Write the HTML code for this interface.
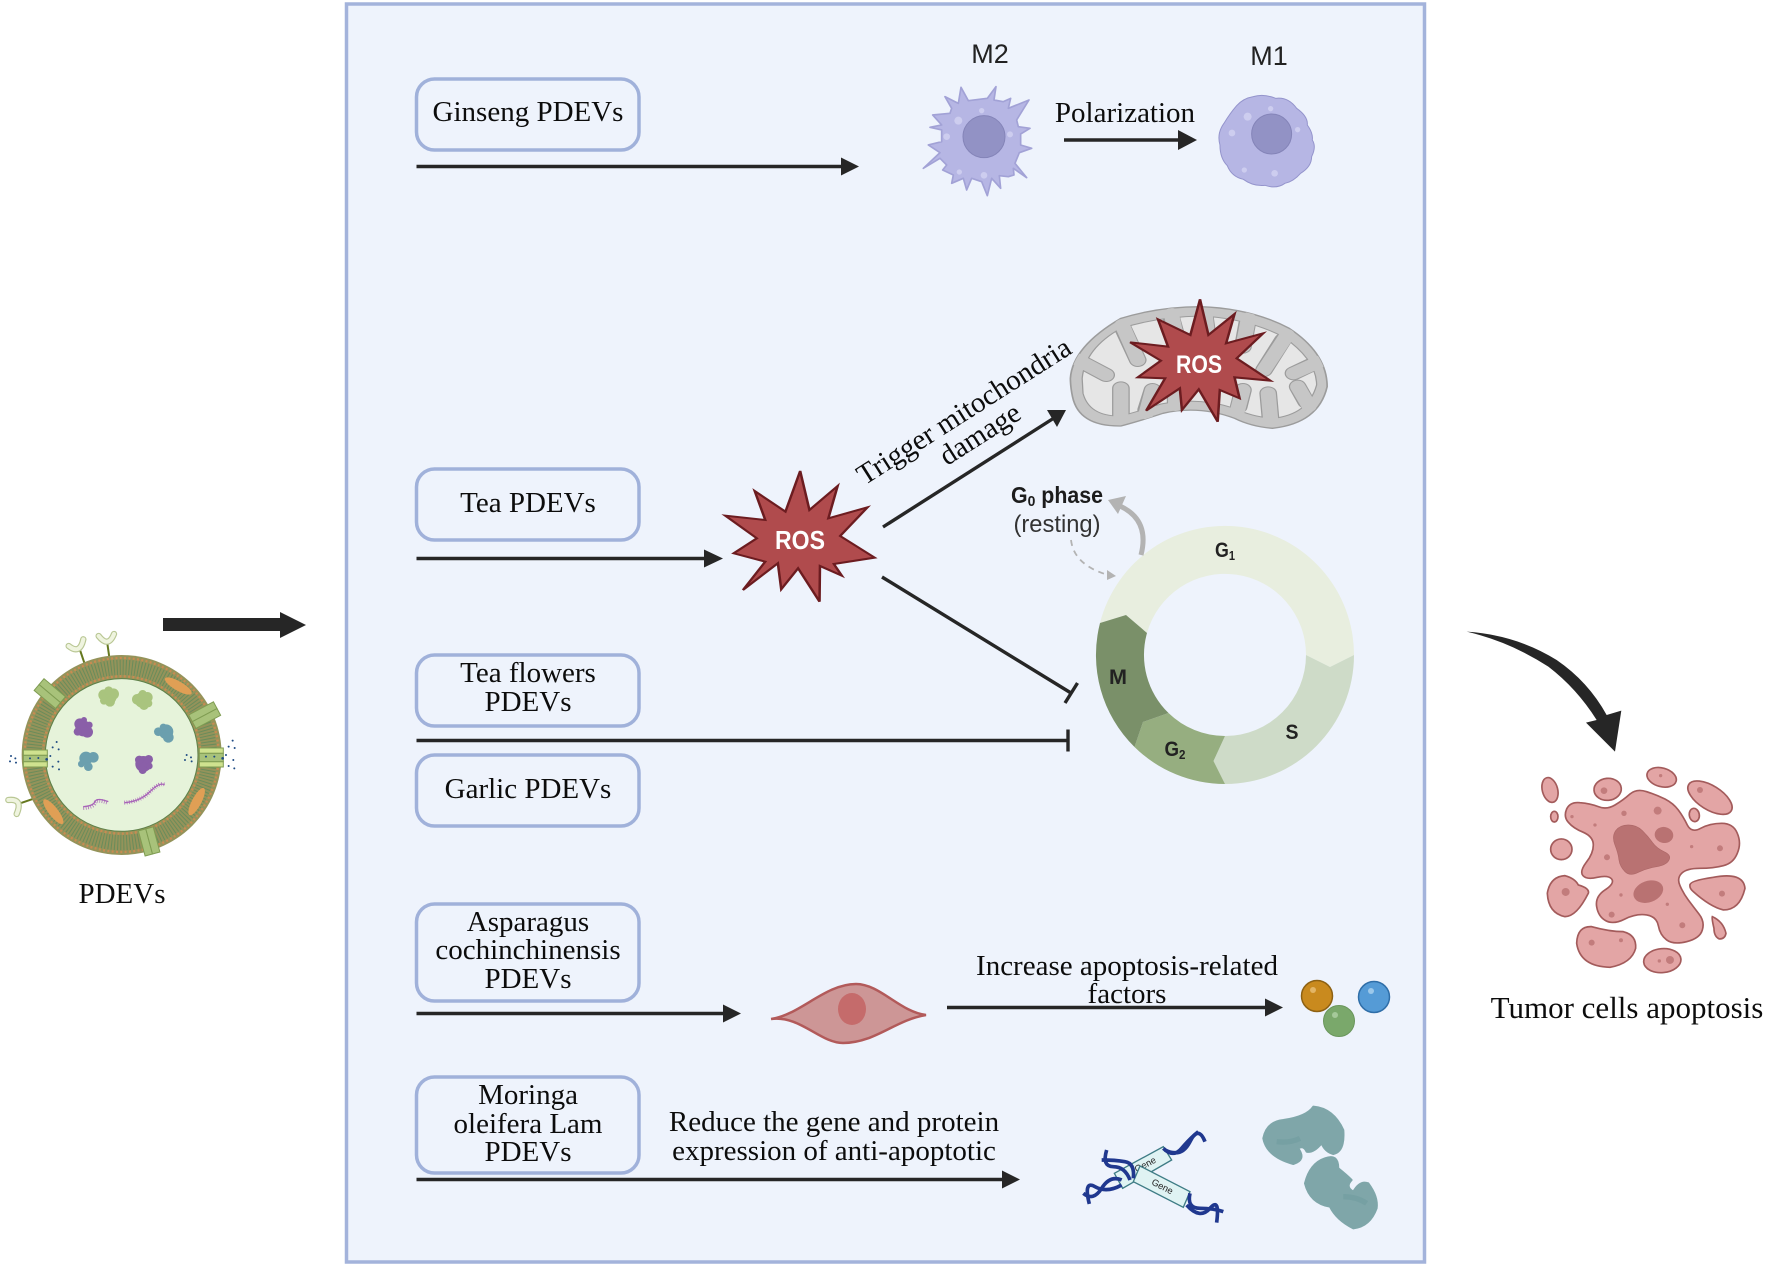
<!DOCTYPE html>
<html>
<head>
<meta charset="utf-8">
<style>
html,body{margin:0;padding:0;background:#fff;width:1772px;height:1266px;overflow:hidden}
svg{display:block}
.t{font-family:"Liberation Serif",serif;font-size:29px;fill:#0c0c0c;text-anchor:middle}
.s{font-family:"Liberation Sans",sans-serif;fill:#222;text-anchor:middle}
.box{fill:none;stroke:#a0b1da;stroke-width:3.5}
.ln{stroke:#262626;stroke-width:3.4;fill:none}
.hd{fill:#262626}
.tm{fill:#e3a5a5;stroke:#a35b5b;stroke-width:5}
.nu{fill:#c27c7c}
</style>
</head>
<body>
<svg xmlns="http://www.w3.org/2000/svg" width="1772" height="1266" viewBox="0 0 1772 1266">
<defs>
<clipPath id="mo"><path d="M880,265 Q885,170 1000,85 Q1090,50 1190,50 Q1310,55 1400,115 Q1490,190 1490,290 Q1470,400 1360,415 Q1310,410 1270,385 Q1185,345 1100,370 Q1040,395 1000,408 Q900,410 885,320 Q880,290 880,265Z"/></clipPath>
<clipPath id="mi"><path d="M908,265 Q915,175 1000,115 Q1090,80 1190,78 Q1300,85 1385,140 Q1465,210 1465,285 Q1445,375 1360,385 Q1310,380 1270,355 Q1185,320 1095,342 Q1040,365 1000,378 Q925,380 910,310 Z"/></clipPath>
</defs>
<rect width="1772" height="1266" fill="#fff"/>
<rect x="346.500" y="4" width="1078" height="1258" fill="#eef3fc" stroke="#a3b3db" stroke-width="3.500"/>

<!-- boxes -->
<rect class="box" x="416.500" y="79" width="222.500" height="71" rx="18"/>
<rect class="box" x="416.500" y="469" width="222.500" height="71" rx="18"/>
<rect class="box" x="416.500" y="655" width="222.500" height="71" rx="18"/>
<rect class="box" x="416.500" y="755" width="222.500" height="71" rx="18"/>
<rect class="box" x="416.500" y="904" width="222.500" height="97" rx="18"/>
<rect class="box" x="416.500" y="1077" width="222.500" height="96" rx="18"/>

<text class="t" x="528" y="121">Ginseng PDEVs</text>
<text class="t" x="528" y="512">Tea PDEVs</text>
<text class="t" x="528" y="682">Tea flowers</text>
<text class="t" x="528" y="711">PDEVs</text>
<text class="t" x="528" y="798">Garlic PDEVs</text>
<text class="t" x="528" y="931">Asparagus</text>
<text class="t" x="528" y="959">cochinchinensis</text>
<text class="t" x="528" y="988">PDEVs</text>
<text class="t" x="528" y="1104">Moringa</text>
<text class="t" x="528" y="1133">oleifera Lam</text>
<text class="t" x="528" y="1161">PDEVs</text>

<!-- arrows -->
<path class="ln" d="M416.500,166.500H845"/><path class="hd" d="M841,157.500L859,166.500L841,175.500Z"/>
<path class="ln" d="M416.500,558.500H710"/><path class="hd" d="M704,549.500L723,558.500L704,567.500Z"/>
<path class="ln" d="M416.500,740.500H1068M1068,729.500V751.500"/>
<path class="ln" d="M416.500,1013.500H730"/><path class="hd" d="M723,1004.500L741,1013.500L723,1022.500Z"/>
<path class="ln" d="M947,1007.500H1270"/><path class="hd" d="M1265,998.500L1283,1007.500L1265,1016.500Z"/>
<path class="ln" d="M416.500,1179.500H1005"/><path class="hd" d="M1002,1170.500L1020,1179.500L1002,1188.500Z"/>
<path class="ln" d="M1064,140H1185"/><path class="hd" d="M1178,130L1197,140L1178,150Z"/>
<path class="ln" d="M883,527L1054,418"/><path class="hd" d="M1047,410L1066,410L1057,427Z"/>
<path class="ln" d="M882,577L1071,693M1077.500,683L1065,703"/>
<path class="hd" d="M163,618H280V612L306,625L280,638V631H163Z"/>

<!-- labels -->
<text class="t" x="1125" y="122">Polarization</text>
<text class="s" x="990" y="63" font-size="27">M2</text>
<text class="s" x="1269" y="65" font-size="27">M1</text>
<text class="t" x="1127" y="975">Increase apoptosis-related</text>
<text class="t" x="1127" y="1003">factors</text>
<text class="t" x="834" y="1131">Reduce the gene and protein</text>
<text class="t" x="834" y="1160">expression of anti-apoptotic</text>
<text class="t" x="122" y="903">PDEVs</text>
<text class="t" x="1627" y="1018" style="font-size:31px">Tumor cells apoptosis</text>
<text class="t" transform="translate(969,419) rotate(-32.500)" y="0" style="font-size:29px">Trigger mitochondria</text>
<text class="t" transform="translate(985,442) rotate(-32.500)" y="0" style="font-size:29px">damage</text>

<!-- M2 / M1 -->
<g transform="matrix(.3333,0,0,.3333,900,30)">
<polygon fill="#b6b6e4" stroke="#a2a2d6" stroke-width="5" stroke-linejoin="round" points="183,172 205,212 262,205 288,170 282,210 310,215 332,205 325,235 387,210 350,270 355,290 390,295 362,312 362,345 395,355 358,368 345,400 380,443 340,415 342,435 325,440 298,437 302,475 275,445 262,497 245,455 215,445 200,480 190,445 155,460 160,435 128,420 140,405 120,385 70,415 120,368 85,345 125,335 125,300 90,292 125,285 98,255 150,250 155,235 135,200 175,220"/>
<circle cx="252" cy="320" r="63" fill="#9292c5" stroke="#8484b8" stroke-width="3"/>
<circle cx="175" cy="272" r="12" fill="#cdcdef"/><circle cx="245" cy="242" r="8" fill="#cdcdef"/><circle cx="140" cy="320" r="10" fill="#cdcdef"/><circle cx="330" cy="313" r="9" fill="#cdcdef"/><circle cx="252" cy="436" r="10" fill="#cdcdef"/><circle cx="178" cy="426" r="8" fill="#cdcdef"/>
<path fill="#b6b6e4" stroke="#9494cc" stroke-width="3" d="M972,280 Q990,250 1010,227 Q1030,205 1060,200 Q1090,190 1127,205 Q1165,200 1190,235 Q1225,260 1222,285 Q1240,310 1237,330 Q1250,350 1235,380 Q1235,410 1202,430 Q1180,455 1155,460 Q1130,478 1095,466 Q1060,470 1030,448 Q995,440 982,407 Q960,385 960,345 Q950,310 972,280Z"/>
<circle cx="1115" cy="312" r="60" fill="#9292c5" stroke="#8484b8" stroke-width="3"/>
<circle cx="1043" cy="260" r="12" fill="#cdcdef"/><circle cx="1112" cy="236" r="8" fill="#cdcdef"/><circle cx="996" cy="309" r="10" fill="#cdcdef"/><circle cx="1193" cy="299" r="8" fill="#cdcdef"/><circle cx="1124" cy="430" r="10" fill="#cdcdef"/><circle cx="1033" cy="420" r="8" fill="#cdcdef"/>
</g>

<!-- Mitochondria + stars (zoom-space) -->
<g transform="matrix(.4209,0,0,.3333,700,290)">
<path fill="#c6c6c6" stroke="#9c9c9c" stroke-width="4" d="M880,265 Q885,170 1000,85 Q1090,50 1190,50 Q1310,55 1400,115 Q1490,190 1490,290 Q1470,400 1360,415 Q1310,410 1270,385 Q1185,345 1100,370 Q1040,395 1000,408 Q900,410 885,320 Q880,290 880,265Z"/>
<path fill="#e6e6e6" stroke="#9c9c9c" stroke-width="3" d="M908,265 Q915,175 1000,115 Q1090,80 1190,78 Q1300,85 1385,140 Q1465,210 1465,285 Q1445,375 1360,385 Q1310,380 1270,355 Q1185,320 1095,342 Q1040,365 1000,378 Q925,380 910,310 Z"/>
<g clip-path="url(#mi)"><g fill="none" stroke="#9c9c9c" stroke-width="42" stroke-linecap="round">
<path d="M905,215 L965,255"/><path d="M1000,375 L1000,295"/><path d="M1060,360 L1075,300"/>
<path d="M1005,115 L1040,210"/><path d="M1120,85 L1130,130"/><path d="M1200,85 L1205,130"/>
<path d="M1300,100 L1290,170"/><path d="M1385,150 L1340,240"/><path d="M1460,220 L1410,250"/>
<path d="M1440,335 L1420,290"/><path d="M1355,380 L1350,310"/><path d="M1280,350 L1290,300"/>
<path d="M1130,335 L1130,230"/>
</g></g>
<g clip-path="url(#mo)"><g fill="none" stroke="#c6c6c6" stroke-width="36" stroke-linecap="round">
<path d="M895,208 L965,255"/><path d="M1000,385 L1000,295"/><path d="M1060,370 L1075,300"/>
<path d="M1003,105 L1040,210"/><path d="M1120,72 L1130,130"/><path d="M1200,72 L1205,130"/>
<path d="M1303,85 L1290,170"/><path d="M1395,135 L1340,240"/><path d="M1472,215 L1410,250"/>
<path d="M1447,348 L1420,290"/><path d="M1356,392 L1350,310"/><path d="M1277,362 L1290,300"/>
<path d="M1130,345 L1130,230"/>
</g></g>
<polygon fill="#b04b4d" stroke="#6c1c20" stroke-width="6" stroke-linejoin="miter" points="1188,28 1208,135 1270,72 1250,160 1338,130 1275,205 1355,272 1270,262 1282,325 1235,300 1230,395 1185,298 1145,360 1140,295 1060,362 1105,265 1040,262 1095,212 1022,157 1112,170 1088,88 1165,135"/>
<polygon fill="#b04b4d" stroke="#6c1c20" stroke-width="6" points="238,543 260,660 327,588 305,685 398,652 333,738 415,803 318,822 337,857 285,828 284,935 233,835 193,898 185,820 102,900 155,815 80,790 135,745 60,677 155,690 130,603 203,665"/>
</g>
<text class="s" x="1199" y="373" font-size="25" font-weight="bold" textLength="46" lengthAdjust="spacingAndGlyphs" style="fill:#fff">ROS</text>
<text class="s" x="800" y="549" font-size="26" font-weight="bold" textLength="50" lengthAdjust="spacingAndGlyphs" style="fill:#fff">ROS</text>

<!-- Cell cycle -->
<path fill="#e8eedf" d="M1100,623L1126,615L1147,633A81,81 0 0 1 1306,655L1330,667L1354,655A129,129 0 0 0 1100,623Z"/>
<path fill="#cedbc8" d="M1354,655A129,129 0 0 1 1225,784L1213.500,761L1225,736A81,81 0 0 0 1306,655L1330,667Z"/>
<path fill="#96ae80" d="M1225,784A129,129 0 0 1 1134.500,747L1143,722L1168.500,713A81,81 0 0 0 1225,736L1213.500,761Z"/>
<path fill="#7a9069" d="M1100,623L1126,615L1147,633A81,81 0 0 0 1168.500,713L1143,722L1134.500,747A129,129 0 0 1 1100,623Z"/>
<text class="s" x="1225" y="557" font-size="21" font-weight="bold" textLength="20" lengthAdjust="spacingAndGlyphs">G<tspan font-size="13" dy="3">1</tspan></text>
<text class="s" x="1118" y="684" font-size="21" font-weight="bold" textLength="18" lengthAdjust="spacingAndGlyphs">M</text>
<text class="s" x="1175" y="756" font-size="21" font-weight="bold" textLength="21" lengthAdjust="spacingAndGlyphs">G<tspan font-size="13" dy="3">2</tspan></text>
<text class="s" x="1292" y="739" font-size="21" font-weight="bold" textLength="13" lengthAdjust="spacingAndGlyphs">S</text>
<text class="s" x="1057" y="503" font-size="23" font-weight="bold" textLength="92" lengthAdjust="spacingAndGlyphs" style="fill:#1c1c1c">G<tspan font-size="15" dy="3">0</tspan><tspan dy="-3"> phase</tspan></text>
<text class="s" x="1057" y="532" font-size="24" textLength="87" lengthAdjust="spacingAndGlyphs" style="fill:#333">(resting)</text>
<path d="M1141,555Q1150,520 1120,506" fill="none" stroke="#b3b3b3" stroke-width="5"/>
<path d="M1108,500L1126,496L1118,514Z" fill="#b3b3b3"/>
<path d="M1071,540Q1074,565 1108,575" fill="none" stroke="#b3b3b3" stroke-width="1.800" stroke-dasharray="6 5"/>
<path d="M1107,570L1116,576L1107,580Z" fill="#b3b3b3"/>

<!-- fibroblast-like cell and factors -->
<path fill="#cd9696" stroke="#b25a5a" stroke-width="2.500" d="M771,1019C800,1015 825,984 856,984C880,984 900,1012 926,1015C895,1020 875,1043 843,1043C820,1043 800,1015 771,1019Z"/>
<ellipse cx="852" cy="1009" rx="14" ry="16" fill="#c56b6b"/>
<circle cx="1339" cy="1021" r="15.500" fill="#7aa86b" stroke="#6a965c"/>
<circle cx="1317" cy="996" r="15.500" fill="#c98a1e" stroke="#8d6113" stroke-width="1.500"/>
<circle cx="1374" cy="997" r="15.500" fill="#559bd6" stroke="#2f6ea8" stroke-width="1.500"/>
<circle cx="1313" cy="990" r="3" fill="#e2b566"/><circle cx="1371" cy="991" r="3" fill="#9cc8ea"/><circle cx="1335" cy="1015" r="3" fill="#a5c99a"/>

<!-- Gene + antibodies -->
<g transform="matrix(.3333,0,0,.3333,1050,1080)">
<polygon points="193,280 340,200 365,240 218,325" fill="#dff3f3" stroke="#3e7c85" stroke-width="4"/>
<text class="s" transform="translate(290,262) rotate(-28)" font-size="28">Gene</text>
<polygon points="270,258 420,335 400,382 250,305" fill="#dff3f3" stroke="#3e7c85" stroke-width="4"/>
<text class="s" transform="translate(333,328) rotate(27)" font-size="28">Gene</text>
<g fill="none" stroke="#20388f" stroke-width="11">
<path d="M340,205Q370,235 395,205T445,155"/><path d="M345,210Q395,235 420,185T465,185"/>
<path d="M215,300Q180,285 155,325T100,340"/><path d="M215,315Q170,340 135,320T118,372"/>
<path d="M250,295Q255,250 225,245T155,240"/><path d="M240,300Q225,260 190,260T170,210"/>
<path d="M420,340Q410,385 450,385T520,395"/><path d="M410,375Q450,420 480,385T500,428"/>
</g>
<g fill="#7fa6a9" stroke="#7fa6a9" stroke-width="6" stroke-linejoin="round">
<path d="M640,175Q650,125 700,120Q770,110 790,80Q850,85 880,150Q885,215 850,222Q825,215 815,190Q790,220 770,215Q760,195 745,205Q770,240 730,252Q650,230 640,175Z"/>
<path d="M765,310Q780,250 825,235Q865,220 865,265Q890,285 905,300Q885,320 910,335Q930,300 955,310Q985,350 980,385Q960,440 910,445Q860,420 840,380Q780,370 765,310Z"/>
</g>
<path d="M680,185Q720,190 750,175M880,350Q920,350 950,370" stroke="#76a0a3" stroke-width="16" fill="none"/>
</g>

<!-- Curved arrow + tumor -->
<g transform="matrix(.3333,0,0,.3333,1460,620)">
<path fill="#262626" d="M20,35Q170,45 290,120Q385,185 440,285L484,272L465,395L378,308L410,300Q350,205 265,140Q150,65 20,35Z"/>
<path class="tm" d="M320,567Q330,545 360,548Q390,550 415,560Q440,570 465,555Q490,540 510,522Q530,505 560,515Q590,525 615,537Q640,550 655,570Q670,590 682,615Q695,640 722,625Q750,610 785,610Q820,610 832,640Q845,670 832,700Q820,730 790,737Q760,745 720,745Q680,745 665,760Q650,775 660,797Q670,820 685,840Q700,860 717,882Q735,905 727,930Q720,955 680,965Q640,975 620,960Q600,945 595,917Q590,890 560,885Q530,880 495,897Q460,915 437,902Q415,890 410,860Q405,830 435,810Q465,790 455,777Q445,765 412,772Q380,780 369,767Q358,755 379,727Q400,700 400,675Q400,650 370,637Q340,625 325,607Q310,590 320,567Z"/>
<path fill="#b97272" stroke="#ad6868" stroke-width="2" d="M467,632Q480,615 505,615Q530,615 547,632Q565,650 577,667Q590,685 612,695Q635,705 627,720Q620,735 590,740Q560,745 535,757Q510,770 495,755Q480,740 477,720Q475,700 465,675Q455,650 467,632Z"/>
<ellipse cx="612" cy="645" rx="28" ry="24" fill="#b97272" transform="rotate(10 612 645)"/>
<ellipse cx="565" cy="815" rx="46" ry="32" fill="#b97272" transform="rotate(-20 565 815)"/>
<ellipse class="tm" cx="270" cy="510" rx="23" ry="38" transform="rotate(-15 270 510)"/>
<ellipse class="tm" cx="283" cy="590" rx="11" ry="16"/>
<ellipse class="tm" cx="443" cy="508" rx="41" ry="33" transform="rotate(-5 443 508)"/>
<ellipse class="tm" cx="605" cy="472" rx="45" ry="28" transform="rotate(15 605 472)"/>
<ellipse class="tm" cx="750" cy="533" rx="75" ry="36" transform="rotate(32 750 533)"/>
<ellipse class="tm" cx="703" cy="585" rx="15" ry="20" transform="rotate(-10 703 585)"/>
<ellipse class="tm" cx="304" cy="688" rx="32" ry="31"/>
<path class="tm" d="M262,820Q270,770 315,767Q345,775 355,795Q390,805 385,820Q350,890 315,890Q265,880 262,820Z"/>
<path class="tm" d="M690,795Q690,782 760,772Q850,755 855,805Q840,870 790,870Q750,860 700,815Q688,805 690,795Z"/>
<path class="tm" d="M757,890Q790,905 798,940Q795,957 778,957Q762,950 762,925Q755,895 757,890Z"/>
<path class="tm" d="M350,970Q352,918 395,920Q450,935 490,935Q530,945 527,985Q515,1030 450,1042Q360,1040 350,970Z"/>
<ellipse class="tm" cx="607" cy="1022" rx="56" ry="36" transform="rotate(-5 607 1022)"/>
<g class="nu">
<circle cx="432" cy="512" r="10"/><circle cx="602" cy="467" r="5"/><circle cx="720" cy="510" r="9"/><circle cx="336" cy="590" r="5"/><circle cx="405" cy="615" r="5"/><circle cx="492" cy="580" r="8"/><circle cx="593" cy="572" r="12"/><circle cx="780" cy="685" r="9"/><circle cx="695" cy="680" r="5"/><circle cx="441" cy="712" r="9"/><circle cx="317" cy="816" r="12"/><circle cx="786" cy="821" r="9"/><circle cx="483" cy="825" r="5"/><circle cx="622" cy="853" r="5"/><circle cx="455" cy="884" r="9"/><circle cx="667" cy="916" r="9"/><circle cx="395" cy="968" r="9"/><circle cx="483" cy="961" r="6"/><circle cx="630" cy="1020" r="12"/><circle cx="598" cy="1023" r="5"/>
</g>
</g>

<!-- Vesicle -->
<g transform="matrix(.3333,0,0,.3333,0,620)">
<g fill="none" stroke="#65781f" stroke-width="6">
<path d="M240,90L262,155"/><path d="M322,70L332,140"/><path d="M55,552L125,528"/>
</g>
<g fill="none" stroke-linecap="round"><g stroke="#b9c794" stroke-width="19"><path d="M206,78Q240,105 250,58"/><path d="M296,48Q325,85 342,42"/><path d="M25,540Q70,535 50,582"/></g><g stroke="#eff4df" stroke-width="12"><path d="M206,78Q240,105 250,58"/><path d="M296,48Q325,85 342,42"/><path d="M25,540Q70,535 50,582"/></g></g>
<circle cx="365" cy="405" r="300" fill="#94935a"/>
<circle cx="365" cy="405" r="263" fill="none" stroke="#6a8c5a" stroke-width="46" stroke-dasharray="3 6"/>
<circle cx="365" cy="405" r="291" fill="none" stroke="#c98b52" stroke-width="7" stroke-dasharray="6 7"/>
<circle cx="365" cy="405" r="236" fill="none" stroke="#c98b52" stroke-width="7" stroke-dasharray="6 7"/>
<circle cx="365" cy="405" r="229" fill="#e6f3da" stroke="#5d8048" stroke-width="3"/>
<g fill="#e09f55">
<ellipse cx="535" cy="198" rx="46" ry="14" transform="rotate(30 535 198)"/>
<ellipse cx="590" cy="545" rx="46" ry="14" transform="rotate(-62 590 545)"/>
<ellipse cx="160" cy="575" rx="46" ry="14" transform="rotate(52 160 575)"/>
</g>
<g fill="#a8c27a" stroke="#7f9c52" stroke-width="3">
<rect x="108" y="198" width="84" height="23" transform="rotate(40 150 220)"/><rect x="108" y="221" width="84" height="23" transform="rotate(40 150 220)"/>
<rect x="572" y="262" width="84" height="23" transform="rotate(-28 615 285)"/><rect x="572" y="285" width="84" height="23" transform="rotate(-28 615 285)"/>
<rect x="426" y="625" width="23" height="78" transform="rotate(-15 450 670)"/><rect x="449" y="625" width="23" height="78" transform="rotate(-15 450 670)"/>
<rect x="70" y="390" width="72" height="16" fill="#cfe28f"/><rect x="70" y="425" width="72" height="16" fill="#cfe28f"/><rect x="70" y="406" width="72" height="19"/>
<rect x="598" y="384" width="72" height="16" fill="#cfe28f"/><rect x="598" y="425" width="72" height="16" fill="#cfe28f"/><rect x="598" y="400" width="72" height="25"/>
</g>
<g fill="#1f4b83">
<circle cx="33" cy="408" r="3"/><circle cx="46" cy="415" r="3"/><circle cx="30" cy="424" r="3"/><circle cx="48" cy="428" r="3"/><circle cx="90" cy="415" r="3"/><circle cx="115" cy="414" r="3"/><circle cx="140" cy="418" r="4"/><circle cx="158" cy="382" r="3"/><circle cx="176" cy="388" r="3"/><circle cx="170" cy="366" r="3"/><circle cx="151" cy="408" r="3"/><circle cx="175" cy="425" r="3"/><circle cx="158" cy="440" r="3"/><circle cx="177" cy="448" r="3"/>
<circle cx="560" cy="405" r="3"/><circle cx="573" cy="412" r="3"/><circle cx="555" cy="420" r="3"/><circle cx="575" cy="424" r="3"/><circle cx="618" cy="410" r="3"/><circle cx="643" cy="410" r="3"/><circle cx="668" cy="415" r="4"/><circle cx="686" cy="380" r="3"/><circle cx="704" cy="384" r="3"/><circle cx="698" cy="362" r="3"/><circle cx="678" cy="405" r="3"/><circle cx="700" cy="420" r="3"/><circle cx="686" cy="438" r="3"/><circle cx="703" cy="445" r="3"/>
</g>
<g fill="#a9c47e">
<circle cx="326" cy="230" r="24"/><circle cx="312" cy="225" r="17"/><circle cx="340" cy="222" r="17"/><circle cx="330" cy="245" r="15"/><circle cx="312" cy="242" r="12"/><circle cx="326" cy="212" r="13"/>
<circle cx="428" cy="240" r="24"/><circle cx="412" cy="238" r="16"/><circle cx="442" cy="232" r="16"/><circle cx="432" cy="256" r="14"/><circle cx="445" cy="250" r="12"/><circle cx="428" cy="222" r="12"/>
</g>
<g fill="#8a5fa8">
<circle cx="250" cy="325" r="24"/><circle cx="240" cy="312" r="17"/><circle cx="262" cy="336" r="17"/><circle cx="233" cy="335" r="12"/><circle cx="268" cy="315" r="10"/><circle cx="252" cy="300" r="9"/>
<circle cx="430" cy="432" r="24"/><circle cx="418" cy="420" r="13"/><circle cx="446" cy="418" r="13"/><circle cx="428" cy="450" r="12"/><circle cx="448" cy="438" r="10"/>
</g>
<g fill="#6b9fae">
<circle cx="498" cy="335" r="22"/><circle cx="505" cy="352" r="16"/><circle cx="475" cy="335" r="13"/><circle cx="490" cy="322" r="11"/>
<circle cx="258" cy="415" r="20"/><circle cx="280" cy="412" r="16"/><circle cx="244" cy="432" r="10"/><circle cx="265" cy="440" r="13"/>
</g>
<g fill="none" stroke="#a864b8">
<path stroke-width="4" d="M250,560Q280,558 285,545T325,545"/><path stroke-width="4" d="M373,548Q420,545 450,515T494,495"/>
<path stroke-width="12" stroke-dasharray="2 5" d="M250,564Q280,562 285,549T325,549"/><path stroke-width="12" stroke-dasharray="2 5" d="M373,548Q420,545 450,515T494,495"/>
</g>
</g>
</svg>
</body>
</html>
